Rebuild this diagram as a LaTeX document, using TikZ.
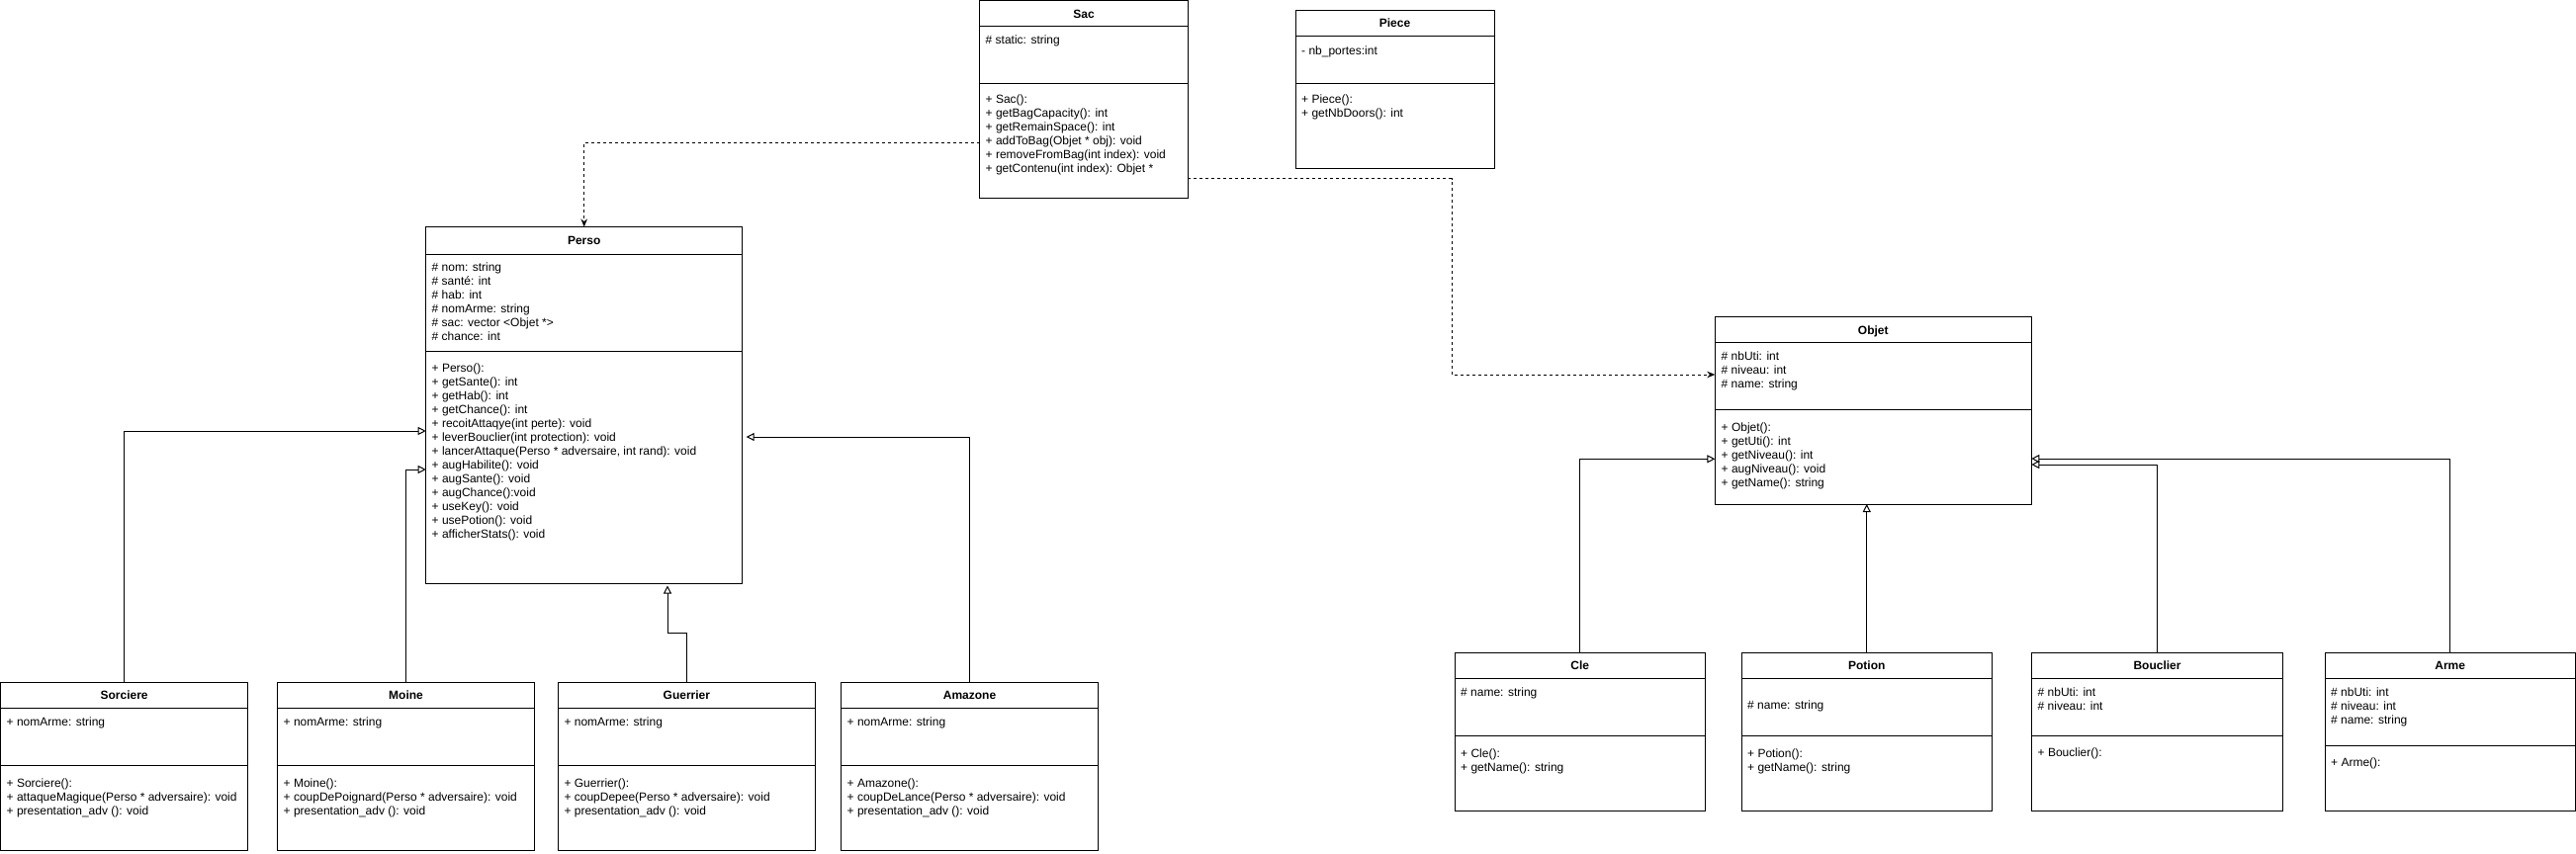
\documentclass[tikz,border=0pt]{standalone}
\usepackage{fontspec}
\setmainfont{Liberation Sans}
\usetikzlibrary{arrows.meta}
\tikzset{
  clsbox/.style={draw=black, line width=1pt, inner sep=0pt, outer sep=0pt, anchor=north west, fill=white},
  clstitle/.style={font=\bfseries\fontsize{12pt}{14pt}\selectfont, inner sep=0pt, anchor=base},
  clstext/.style={font=\fontsize{12pt}{14pt}\selectfont, inner sep=0pt, anchor=base west},
  sepline/.style={line width=1pt},
  inh/.style={line width=1pt, -{Triangle[open,length=8pt,width=8pt]}},
  dep/.style={line width=1pt, dash pattern=on 3pt off 3pt, -{Stealth[length=8pt,width=6.5pt]}},
}
\newcommand{\umlclass}[8]{%
  \node[clsbox, minimum width={(#4-#2)*1pt}, minimum height={(#5-#3)*1pt}] (#1) at (#2,#3) {};
  \draw[sepline] (#2,#6) -- (#4,#6);
  \draw[sepline] (#2,#7) -- (#4,#7);
  \node[clstitle] (#1-title) at ({(#2+#4)/2},{(#3+#6)/2+4.3}) {#8};
}
\newcommand{\umllines}[4]{%
  \foreach \t [count=\i from 0] in {#4} {\node[clstext] (#1\i) at ({#2},{#3+14*\i}) {\t};}
}
\begin{document}
\begin{tikzpicture}[x=1pt,y=-1pt]
\fill[white] (0,0) rectangle (2605,864);
\useasboundingbox (0,0) rectangle (2605,864);

% Sac
\umlclass{sac}{990.7}{0.5}{1201.3}{200.5}{27}{84.3}{Sac}
\umllines{saca}{996.5}{44.5}{{\# static: string}}
\umllines{sacm}{996.5}{104.5}{{+ Sac():},{+ getBagCapacity(): int},{+ getRemainSpace(): int},{+ addToBag(Objet * obj): void},{+ removeFromBag(int index): void},{+ getContenu(int index): Objet *}}

% Piece
\umlclass{piece}{1310}{10.7}{1511}{170.7}{36.7}{84.3}{Piece}
\umllines{piecea}{1316}{55.2}{{- nb\_portes:int}}
\umllines{piecem}{1316}{104.5}{{+ Piece():},{+ getNbDoors(): int}}

% Perso
\umlclass{perso}{430.7}{229.5}{750.7}{590}{257}{355.5}{Perso}
\umllines{persoa}{436.5}{274.5}{{\# nom: string},{\# santé: int},{\# hab: int},{\# nomArme: string},{\# sac: vector <Objet *>},{\# chance: int}}
\umllines{persom}{436.5}{376.8}{{+ Perso():},{+ getSante(): int},{+ getHab(): int},{+ getChance(): int},{+ recoitAttaqye(int perte): void},{+ leverBouclier(int protection): void},{+ lancerAttaque(Perso * adversaire, int rand): void},{+ augHabilite(): void},{+ augSante(): void},{+ augChance():void},{+ useKey(): void},{+ usePotion(): void},{+ afficherStats(): void}}

% Objet
\umlclass{objet}{1734.3}{320.7}{2054.3}{510}{346.7}{414.3}{Objet}
\umllines{objeta}{1740.5}{364.5}{{\# nbUti: int},{\# niveau: int},{\# name: string}}
\umllines{objetm}{1740.5}{436.8}{{+ Objet():},{+ getUti(): int},{+ getNiveau(): int},{+ augNiveau(): void},{+ getName(): string}}

% Perso subclasses
\umlclass{sorciere}{0.7}{690.7}{250.5}{860}{716}{774.3}{Sorciere}
\umllines{sorcierea}{6.5}{734.5}{{+ nomArme: string}}
\umllines{sorcierem}{6.5}{796.8}{{+ Sorciere():},{+ attaqueMagique(Perso * adversaire): void},{+ presentation\_adv (): void}}

\umlclass{moine}{280.5}{690.7}{540.5}{860}{716}{774.3}{Moine}
\umllines{moinea}{286.5}{734.5}{{+ nomArme: string}}
\umllines{moinem}{286.5}{796.8}{{+ Moine():},{+ coupDePoignard(Perso * adversaire): void},{+ presentation\_adv (): void}}

\umlclass{guerrier}{564.3}{690.7}{824.5}{860}{716}{774.3}{Guerrier}
\umllines{guerriera}{570.3}{734.5}{{+ nomArme: string}}
\umllines{guerrierm}{570.3}{796.8}{{+ Guerrier():},{+ coupDepee(Perso * adversaire): void},{+ presentation\_adv (): void}}

\umlclass{amazone}{850.5}{690.7}{1110.5}{860}{716}{774.3}{Amazone}
\umllines{amazonea}{856.5}{734.5}{{+ nomArme: string}}
\umllines{amazonem}{856.5}{796.8}{{+ Amazone():},{+ coupDeLance(Perso * adversaire): void},{+ presentation\_adv (): void}}

% Objet subclasses
\umlclass{cle}{1471}{660.7}{1724.5}{820.7}{686}{744.3}{Cle}
\umllines{clea}{1477}{704.5}{{\# name: string}}
\umllines{clem}{1477}{766.8}{{+ Cle():},{+ getName(): string}}

\umlclass{potion}{1761}{660.7}{2014.5}{820.7}{686}{744.3}{Potion}
\umllines{potiona}{1767}{717.8}{{\# name: string}}
\umllines{potionm}{1767}{766.8}{{+ Potion():},{+ getName(): string}}

\umlclass{bouclier}{2054.5}{660.7}{2308.5}{820.7}{686}{744.3}{Bouclier}
\umllines{boucliera}{2060.5}{704.5}{{\# nbUti: int},{\# niveau: int}}
\umllines{boucilerm}{2060.5}{765.5}{{+ Bouclier():}}

\umlclass{arme}{2351}{660.7}{2604.3}{820.7}{686}{754}{Arme}
\umllines{armea}{2357}{704.5}{{\# nbUti: int},{\# niveau: int},{\# name: string}}
\umllines{armem}{2357}{775.2}{{+ Arme():}}

% Dependencies
\draw[dep] (sac.west |- 0,144.3) -| (perso.north);
\coordinate (sacbend) at (1468,379);
\draw[dep] (sac.east |- 0,180.7) -| (sacbend) -- (objet.west |- sacbend);

% Inheritance to Perso
\draw[inh] (sorciere.north) |- (perso.west |- 0,436);
\draw[inh] (moine.north) |- (perso.west |- 0,475);
\draw[inh, shorten >=2.5pt] (guerrier.north) -- (guerrier.north |- 0,640) -| (perso.south -| 675,0);
\draw[inh, shorten >=4pt] (amazone.north) |- (perso.east |- 0,442);

% Inheritance to Objet
\draw[inh] (cle.north) |- (objet.west |- 0,464.3);
\draw[inh] (potion.north) -- (potion.north |- objet.south);
\draw[inh] (bouclier.north) |- (objet.east |- 0,470);
\draw[inh] (arme.north) |- (objet.east |- 0,464);
\end{tikzpicture}
\end{document}
